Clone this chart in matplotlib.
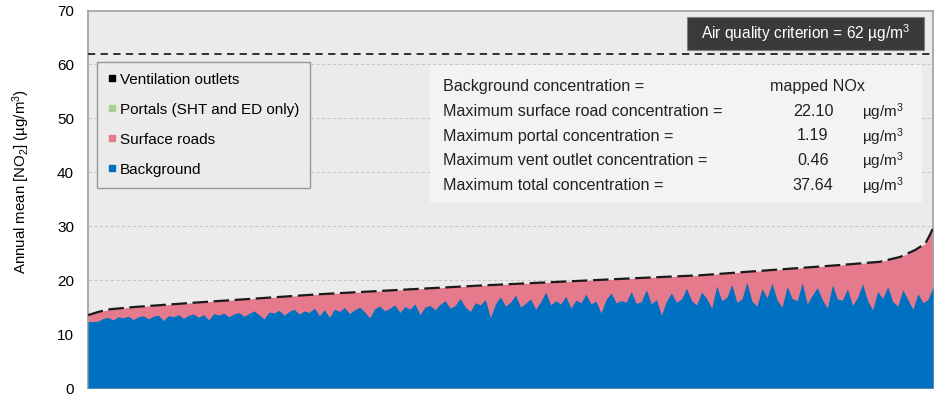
import numpy as np
import matplotlib.pyplot as plt
from matplotlib.lines import Line2D
from matplotlib.patches import Rectangle

plt.rcParams['font.family'] = ['Liberation Sans', 'DejaVu Sans']
plt.rcParams['mathtext.fontset'] = 'custom'
plt.rcParams['mathtext.rm'] = 'Liberation Sans'
plt.rcParams['mathtext.it'] = 'Liberation Sans:italic'

# receptors sorted by total concentration, position as percent of rank
total_rank = [0, 1.2, 2.6, 5.3, 13.3, 27.5, 46.4, 65.3, 72.4, 81.1, 89.0,
              93.7, 96.1, 97.9, 99.1, 99.6, 100]
total_conc = [13.5, 14.1, 14.6, 15.0, 15.9, 17.4, 19.0, 20.4, 20.9, 21.9, 22.8,
              23.4, 24.3, 25.6, 26.8, 28.3, 29.6]

background_conc = [
    12.3, 12.3, 12.4, 12.9, 13.1, 12.6, 13.2, 13.0, 13.3, 12.7,
    13.2, 13.4, 12.8, 13.3, 13.5, 12.5, 13.4, 13.2, 13.6, 12.9,
    13.5, 13.7, 13.1, 13.6, 12.6, 13.8, 13.5, 13.9, 13.2, 13.7,
    14.0, 13.3, 13.8, 14.3, 13.6, 12.8, 14.1, 13.9, 14.4, 13.5,
    14.2, 14.6, 13.7, 14.3, 14.0, 14.8, 13.4, 14.5, 13.1, 14.6,
    14.2, 14.9, 13.8, 14.5, 15.0, 14.1, 13.0, 14.7, 15.2, 14.3,
    14.8, 15.4, 14.0, 15.1, 14.6, 15.6, 13.6, 15.0, 15.3, 14.5,
    15.5, 16.2, 14.8, 15.3, 16.6, 15.0, 14.2, 15.8, 15.4, 16.4,
    13.0, 15.6, 16.9, 15.2, 15.9, 17.2, 15.0, 15.7, 16.5, 14.6,
    16.0, 17.8, 15.4, 16.2, 15.6, 17.0, 14.8, 16.3, 15.8, 17.4,
    15.6, 16.1, 13.9, 16.4, 17.6, 15.8, 16.2, 15.9, 17.9, 15.7,
    16.0, 18.2, 15.6, 16.4, 13.5, 16.1, 17.6, 15.9, 16.5, 18.5,
    16.2, 15.4, 17.8, 16.6, 14.8, 18.9, 16.2, 16.8, 19.2, 15.9,
    16.5, 19.6, 16.1, 15.2, 18.4, 16.7, 19.4, 16.3, 15.0, 18.8,
    16.6, 16.2, 19.5, 15.6, 17.2, 18.6, 16.4, 14.8, 19.1, 16.5,
    16.3, 18.4, 15.3, 16.8, 19.3, 16.2, 14.5, 17.9, 16.6, 18.8,
    16.0, 15.2, 18.2, 16.4, 14.6, 17.5, 15.8, 16.4, 18.7,
]
background_rank = np.linspace(0, 100, len(background_conc))

criterion = 62
stat_labels = ['Background concentration =',
               'Maximum surface road concentration =',
               'Maximum portal concentration =',
               'Maximum vent outlet concentration =',
               'Maximum total concentration =']
stat_values = ['mapped NOx', '22.10', '1.19', '0.46', '37.64']

blue = '#0070c0'
pink = '#e57a8c'
green = '#a9d18e'

fig = plt.figure(figsize=(9.41, 3.95), dpi=100)
ax = fig.add_axes([88 / 941, 7 / 395, 845 / 941, 377.5 / 395])
ax.set_facecolor('#ebebeb')

def px(x, y):
    # pixel position -> axes fraction
    return (x - 88) / 845, (388 - y) / 377.5

ax.fill_between(total_rank, 0, total_conc, color=pink, lw=0, zorder=2)
ax.fill_between(background_rank, 0, background_conc, color=blue, lw=0, zorder=3)
ax.plot(total_rank, total_conc, color='#1a1a1a', lw=1.6, dashes=(7, 2.5), zorder=4)

ax.axhline(criterion, color='#222222', lw=1.3, dashes=(4, 3), zorder=4)

ax.set_xlim(0, 100)
ax.set_ylim(0, 70)
ax.set_xticks([])
ax.set_yticks(range(0, 71, 10))
ax.tick_params(axis='y', length=0, pad=10, labelsize=11)
for y in range(10, 70, 10):
    ax.axhline(y, color='#c8c8c8', lw=0.8, dashes=(3, 2), zorder=1)
for s in ax.spines.values():
    s.set_color('#a0a0a0')
    s.set_linewidth(1.2)

ax.set_ylabel('Annual mean [NO$_2$] (µg/m$^3$)', fontsize=10.8)
ax.yaxis.set_label_coords(-0.066, 0.546)

# legend
handles = [Line2D([], [], ls='none', marker='s', ms=5, color='black'),
           Line2D([], [], ls='none', marker='s', ms=5, color=green),
           Line2D([], [], ls='none', marker='s', ms=5, color=pink),
           Line2D([], [], ls='none', marker='s', ms=5, color=blue)]
labels = ['Ventilation outlets', 'Portals (SHT and ED only)', 'Surface roads', 'Background']
leg = ax.legend(handles, labels, loc='upper left', bbox_to_anchor=px(97, 62),
                fontsize=11, frameon=True, fancybox=False, handlelength=0.5,
                handletextpad=0.3, labelspacing=1.05, borderpad=0.7,
                borderaxespad=0)
leg.get_frame().set_facecolor('#ebebeb')
leg.get_frame().set_edgecolor('#999999')
leg.get_frame().set_linewidth(1.0)
leg.get_frame().set_alpha(1)
leg.set_zorder(6)

# statistics box
x0, y0 = px(430, 203)
x1, y1 = px(922, 65)
ax.add_patch(Rectangle((x0, y0), x1 - x0, y1 - y0, transform=ax.transAxes,
                       facecolor='#f3f3f3', edgecolor='none', zorder=5))
for row, (lab, val) in enumerate(zip(stat_labels, stat_values)):
    yy = 87 + row * 24.5
    ax.text(*px(443, yy), lab, transform=ax.transAxes, fontsize=11.6,
            va='center', ha='left', color='#222222', zorder=6)
    ax.text(*px(813 if row else 818, yy), val, transform=ax.transAxes,
            fontsize=11.6, va='center', ha='center', color='#222222', zorder=6)
    if row:
        ax.text(*px(862, yy + 1), 'µg/m$^3$', transform=ax.transAxes,
                fontsize=11, va='center', ha='left', color='#222222', zorder=6)

# criterion label
x0, y0 = px(687, 50)
x1, y1 = px(924, 17)
ax.add_patch(Rectangle((x0, y0), x1 - x0, y1 - y0, transform=ax.transAxes,
                       facecolor='#3a3a3a', edgecolor='#808080', lw=0.8, zorder=5))
ax.text((x0 + x1) / 2, (y0 + y1) / 2, 'Air quality criterion = 62 µg/m$^3$',
        transform=ax.transAxes, fontsize=11.2, color='white',
        ha='center', va='center', zorder=6)

fig.savefig('out.png', dpi=100)
